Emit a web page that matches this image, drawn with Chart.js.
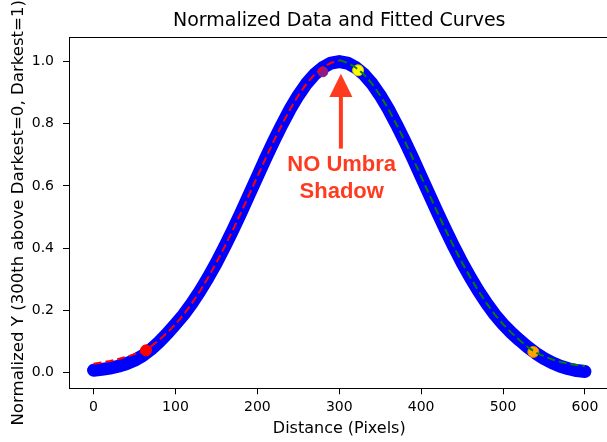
<!DOCTYPE html>
<html><head><meta charset="utf-8">
<script src="https://cdn.jsdelivr.net/npm/chart.js@4"></script>
<style>html,body{margin:0;padding:0;overflow:hidden;background:#fff;width:607px;height:442px}#wrap{width:607px;height:442px;overflow:hidden;position:relative}</style>
</head><body><div id="wrap"><canvas id="c" width="616" height="442"></canvas></div>
<script>
// ---- data ----
const distance = [0,10,20,30,40,50,60,70,80,90,100,110,120,130,140,150,160,170,180,190,200,210,220,230,240,250,260,270,280,290,300,310,320,330,340,350,360,370,380,390,400,410,420,430,440,450,460,470,480,490,500,510,520,530,540,550,560,570,580,590,600];
const normalizedY = [0.007,0.010,0.014,0.020,0.028,0.039,0.054,0.074,0.098,0.125,0.155,0.186,0.222,0.262,0.306,0.353,0.404,0.458,0.514,0.572,0.630,0.688,0.744,0.797,0.847,0.891,0.929,0.959,0.981,0.995,1.000,0.995,0.981,0.959,0.929,0.891,0.847,0.797,0.744,0.688,0.630,0.572,0.514,0.458,0.404,0.353,0.306,0.262,0.222,0.186,0.155,0.128,0.104,0.082,0.062,0.045,0.031,0.020,0.012,0.006,0.003];
const fitLeftX = [0,10,20,30,40,50,60,70,80,90,100,110,120,130,140,150,160,170,180,190,200,210,220,230,240,250,260,270,280,290,300];
const fitLeftY = [0.028,0.032,0.037,0.043,0.050,0.059,0.068,0.084,0.104,0.128,0.155,0.186,0.222,0.262,0.306,0.353,0.404,0.458,0.514,0.572,0.630,0.688,0.744,0.797,0.847,0.891,0.929,0.959,0.981,0.996,1.003];
const fitRightX = [300,310,320,330,340,350,360,370,380,390,400,410,420,430,440,450,460,470,480,490,500,510,520,530,540,550,560,570,580,590,600];
const fitRightY = [1.005,0.996,0.981,0.959,0.929,0.891,0.847,0.797,0.744,0.688,0.630,0.572,0.514,0.458,0.404,0.353,0.306,0.262,0.222,0.186,0.155,0.128,0.104,0.082,0.064,0.052,0.042,0.034,0.028,0.024,0.020];
const markerX = [64, 280, 323, 537];
const markerY = [0.071, 0.967, 0.972, 0.066];
const xTicks = [0,100,200,300,400,500,600];
const yTicks = [0.0,0.2,0.4,0.6,0.8,1.0];

const pts = (xs, ys) => xs.map((x, i) => ({x: x, y: ys[i]}));

const spines = {
  id: 'spines',
  afterDraw(chart) {
    const {ctx, chartArea: a} = chart;
    ctx.save();
    ctx.strokeStyle = '#000'; ctx.lineWidth = 1;
    ctx.strokeRect(Math.round(a.left) + 0.5, Math.round(a.top) + 0.5, Math.round(a.right - a.left), Math.round(a.bottom - a.top));
    ctx.restore();
  }
};

const note = {
  id: 'note',
  afterDatasetsDraw(chart) {
    const {ctx, scales: {x, y}} = chart;
    const col = '#ff3b1f';
    const ax = x.getPixelForValue(302);
    const tip = y.getPixelForValue(0.961), base = y.getPixelForValue(0.886), tail = y.getPixelForValue(0.72);
    ctx.save();
    ctx.fillStyle = col;
    ctx.fillRect(ax - 2, base - 1, 4, tail - base + 1);
    ctx.beginPath();
    ctx.moveTo(ax, tip); ctx.lineTo(ax - 11.5, base); ctx.lineTo(ax + 11.5, base); ctx.closePath();
    ctx.fill();
    ctx.font = 'bold 22px "Liberation Sans", Arial, sans-serif';
    ctx.textAlign = 'center'; ctx.textBaseline = 'middle';
    const tx = x.getPixelForValue(303);
    ctx.fillText('NO Umbra', tx, y.getPixelForValue(0.667));
    ctx.fillText('Shadow', tx, y.getPixelForValue(0.581));
    ctx.restore();
  }
};

const tickFont = {family: 'DejaVu Sans', size: 14};

new Chart(document.getElementById('c'), {
  type: 'scatter',
  data: {
    datasets: [
      {data: pts(fitLeftX, fitLeftY), showLine: true, borderColor: '#ff0000', borderWidth: 2, borderDash: [8, 4], pointRadius: 0, order: 0},
      {data: pts(fitRightX, fitRightY), showLine: true, borderColor: '#008000', borderWidth: 2, borderDash: [8, 4], pointRadius: 0, order: 0},
      {data: [{x: markerX[0], y: markerY[0]}], backgroundColor: '#ff0000', borderColor: '#ff0000', pointRadius: 5.5, order: 1},
      {data: [{x: markerX[1], y: markerY[1]}], backgroundColor: '#8b1a8b', borderColor: '#8b1a8b', pointRadius: 5, order: 1},
      {data: [{x: markerX[2], y: markerY[2]}], backgroundColor: '#ffff00', borderColor: '#c8c800', borderWidth: 1, pointRadius: 5.5, order: 1},
      {data: [{x: markerX[3], y: markerY[3]}], backgroundColor: '#ffa500', borderColor: '#d98200', borderWidth: 1, pointRadius: 5.5, order: 1},
      {data: pts(distance, normalizedY), showLine: true, borderColor: '#0000ff', borderWidth: 13, borderCapStyle: 'round', borderJoinStyle: 'round', pointRadius: 0, order: 2}
    ]
  },
  options: {
    responsive: false, animation: false, devicePixelRatio: 1,
    layout: {padding: 0},
    plugins: {
      legend: {display: false}, tooltip: {enabled: false},
      title: {display: true, text: 'Normalized Data and Fitted Curves', fullSize: false, color: '#000',
        font: {family: 'DejaVu Sans', size: 19, weight: 'normal'}, padding: {top: 10, bottom: 4.5}}
    },
    scales: {
      x: {
        type: 'linear', min: -30, max: 630,
        afterBuildTicks: s => { s.ticks = xTicks.map(v => ({value: v})); },
        afterFit: s => { s.height = 53.7; s.paddingLeft = 0; s.paddingRight = 0; },
        grid: {drawOnChartArea: false, drawTicks: true, tickLength: 6, tickColor: '#000'},
        border: {color: '#000'},
        ticks: {color: '#000', font: tickFont, padding: 5, maxRotation: 0, callback: v => String(v)},
        title: {display: true, text: 'Distance (Pixels)', color: '#000', font: {family: 'DejaVu Sans', size: 16}, padding: {top: 0, bottom: 4}}
      },
      y: {
        type: 'linear', min: -0.051, max: 1.078,
        afterBuildTicks: s => { s.ticks = yTicks.map(v => ({value: v})); },
        afterFit: s => { s.width = 69; s.paddingTop = 0; s.paddingBottom = 0; },
        grid: {drawOnChartArea: false, drawTicks: true, tickLength: 6, tickColor: '#000'},
        border: {color: '#000'},
        ticks: {color: '#000', font: tickFont, padding: 9, callback: v => Number(v).toFixed(1)},
        title: {display: true, text: 'Normalized Y (300th above Darkest=0, Darkest=1)', color: '#000', font: {family: 'DejaVu Sans', size: 16.6}, padding: {top: 8.5, bottom: 0}}
      }
    }
  },
  plugins: [spines, note]
});
</script></body></html>
